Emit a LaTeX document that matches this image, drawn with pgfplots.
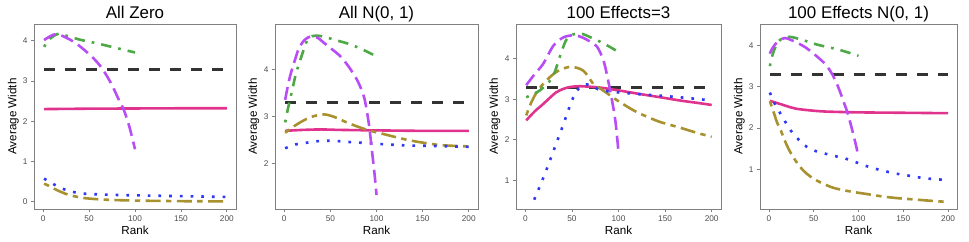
\documentclass[border=0pt]{standalone}
\usepackage{pgfplots}
\pgfplotsset{compat=1.18}
\usepackage{fontspec}
\setmainfont{Liberation Sans}
\definecolor{cblack}{HTML}{333333}
\definecolor{cpink}{HTML}{E0338D}
\definecolor{cpurple}{HTML}{B94DF5}
\definecolor{cgreen}{HTML}{4DA845}
\definecolor{colive}{HTML}{A8912F}
\definecolor{cblue}{HTML}{3038F8}
\definecolor{cframe}{HTML}{808080}
\definecolor{ctick}{HTML}{4D4D4D}
\pgfplotsset{
  every axis title shift=0pt,
  panel/.style={
    scale only axis, height=185bp,
    xmin=-10, xmax=210, xtick={0,50,100,150,200},
    axis line style={draw=cframe, line width=0.9bp},
    tick align=outside, tick pos=left,
    major tick length=3bp,
    tick style={draw=cframe, line width=0.8bp},
    ticklabel style={font=\fontsize{8.3}{9}\selectfont, text=ctick},
    /pgf/number format/assume math mode=true,
    title style={at={(axis description cs:0.5,1.0324)}, anchor=base, inner sep=0pt, font=\fontsize{17}{18}\selectfont},
    xlabel style={at={(axis description cs:0.5,-0.1405)}, anchor=base, inner sep=0pt, font=\fontsize{11.7}{12}\selectfont},
    ylabel style={anchor=base, inner sep=0pt, font=\fontsize{11.7}{12}\selectfont},
    xlabel={Rank}, ylabel={Average Width},
    every axis plot/.append style={line width=2.6bp, line cap=butt, no markers},
  },
  sblack/.style={cblack, dash pattern=on 11bp off 10bp},
  spink/.style={cpink, solid},
  spurple/.style={cpurple, dash pattern=on 13bp off 6bp},
  sgreen/.style={cgreen, dash pattern=on 2.7bp off 7bp on 10.5bp off 7bp},
  solive/.style={colive, dash pattern=on 5.4bp off 5.4bp on 15bp off 5.4bp},
  sblue/.style={cblue, dash pattern=on 2.7bp off 8bp},
}
\begin{document}
\begin{tikzpicture}
\path[use as bounding box] (0,0) rectangle (969bp,242bp);
% Panel 1
\begin{axis}[panel, at={(34bp,33bp)}, anchor=south west, width=202bp,
  ymin=-0.19, ymax=4.42, ytick={0,1,2,3,4},
  ylabel style={at={(axis description cs:-0.087,0.5)}},
  title={All Zero}]
\addplot[sblack] coordinates {(1,3.29) (200,3.29)};
\addplot[spink] coordinates {(1,2.30) (50,2.31) (100,2.315) (150,2.32) (200,2.32)};
\addplot[solive, smooth] coordinates {(1,0.44) (5,0.40) (10,0.34) (15,0.28) (20,0.23) (28,0.16) (40,0.10) (50,0.07) (70,0.04) (100,0.02) (150,0.005) (200,0.0)};
\addplot[sblue, smooth] coordinates {(1,0.57) (5,0.51) (12,0.42) (18,0.35) (23,0.30) (30,0.25) (40,0.20) (50,0.185) (60,0.175) (80,0.16) (100,0.15) (150,0.13) (200,0.11)};
\addplot[sgreen, smooth] coordinates {(1,3.85) (5,4.0) (10,4.1) (17,4.18) (25,4.13) (40,4.03) (60,3.93) (80,3.82) (100,3.71)};
\addplot[spurple, smooth] coordinates {(1,4.02) (8,4.12) (15,4.17) (25,4.08) (35,3.95) (45,3.77) (55,3.56) (63,3.35) (70,3.1) (76,2.85) (82,2.55) (88,2.27) (94,1.85) (100,1.3)};
\end{axis}
% Panel 2
\begin{axis}[panel, at={(275bp,33bp)}, anchor=south west, width=203bp,
  ymin=1.03, ymax=4.96, ytick={2,3,4},
  ylabel style={at={(axis description cs:-0.089,0.5)}},
  title={All N(0, 1)}]
\addplot[sblack] coordinates {(1,3.29) (200,3.29)};
\addplot[spink, smooth] coordinates {(1,2.69) (20,2.71) (40,2.72) (60,2.71) (100,2.70) (150,2.69) (200,2.69)};
\addplot[solive, smooth] coordinates {(1,2.65) (10,2.78) (20,2.9) (30,2.99) (43,3.04) (55,2.98) (70,2.85) (90,2.71) (110,2.61) (133,2.50) (150,2.44) (168,2.39) (185,2.37) (200,2.36)};
\addplot[sblue, smooth] coordinates {(1,2.32) (12,2.40) (25,2.44) (36,2.47) (48,2.48) (60,2.47) (72,2.45) (90,2.43) (104,2.41) (133,2.38) (160,2.37) (200,2.35)};
\addplot[sgreen, smooth] coordinates {(1,2.87) (4,3.16) (8,3.5) (12.6,3.9) (16,4.11) (20,4.35) (25,4.62) (30,4.70) (37,4.71) (45,4.68) (55,4.62) (68,4.55) (80,4.46) (90,4.37) (100,4.27)};
\addplot[spurple, smooth] coordinates {(1,3.35) (4,3.65) (7,3.9) (12,4.22) (16,4.45) (22,4.62) (28,4.69) (36,4.67) (43,4.56) (52,4.42) (61,4.27) (70,4.05) (79,3.77) (85,3.5) (88,3.28) (92,2.8) (95,2.28) (98,1.75) (100,1.33)};
\end{axis}
% Panel 3
\begin{axis}[panel, at={(516bp,33bp)}, anchor=south west, width=205bp,
  ymin=0.29, ymax=4.86, ytick={1,2,3,4},
  ylabel style={at={(axis description cs:-0.088,0.5)}},
  title={100 Effects=3}]
\addplot[sblack] coordinates {(1,3.29) (200,3.29)};
\addplot[spink, smooth] coordinates {(1,2.48) (10,2.70) (19,2.88) (26,3.03) (33,3.17) (40,3.25) (47,3.30) (55,3.32) (62,3.32) (80,3.29) (100,3.22) (123,3.13) (145,3.05) (166,2.97) (185,2.91) (200,2.86)};
\addplot[solive, smooth] coordinates {(1,2.6) (5,2.85) (11,3.13) (18,3.35) (26,3.54) (35,3.7) (47,3.80) (55,3.78) (62,3.71) (68,3.55) (73,3.38) (84,3.21) (95,3.03) (105,2.88) (120,2.68) (141,2.47) (152,2.39) (166,2.30) (180,2.2) (200,2.07)};
\addplot[sblue, smooth] coordinates {(9.5,0.52) (20,1.10) (30,1.71) (40,2.33) (46,2.72) (50,2.97) (55,3.2) (60,3.32) (66,3.37) (72,3.31) (78,3.25) (88,3.2) (100,3.17) (120,3.13) (150,3.08) (175,3.03) (200,2.97)};
\addplot[sgreen, smooth] coordinates {(1,3.05) (8,3.12) (15,3.21) (22,3.35) (28,3.5) (32,3.7) (36,3.98) (40,4.25) (44,4.47) (49,4.58) (55,4.62) (62,4.61) (70,4.53) (84,4.38) (100,4.17)};
\addplot[spurple, smooth] coordinates {(1,3.35) (10,3.62) (19,3.87) (30,4.32) (40,4.52) (47,4.57) (54,4.58) (62,4.52) (70,4.42) (77,4.3) (84,3.95) (89,3.45) (94,2.85) (97,2.4) (100,1.7)};
\end{axis}
% Panel 4
\begin{axis}[panel, at={(760bp,33bp)}, anchor=south west, width=197bp,
  ymin=0.04, ymax=4.52, ytick={1,2,3,4},
  ylabel style={at={(axis description cs:-0.089,0.5)}},
  title={100 Effects N(0, 1)}]
\addplot[sblack] coordinates {(1,3.29) (200,3.29)};
\addplot[spink, smooth] coordinates {(1,2.66) (10,2.6) (20,2.53) (30,2.47) (45,2.43) (63,2.40) (100,2.38) (150,2.37) (200,2.36)};
\addplot[solive, smooth] coordinates {(1,2.65) (5,2.4) (9,2.14) (14,1.9) (18,1.68) (23,1.45) (30,1.2) (38,0.98) (46,0.83) (56,0.70) (65,0.61) (74,0.54) (92,0.46) (110,0.40) (128,0.34) (145,0.30) (163,0.27) (180,0.24) (200,0.21)};
\addplot[sblue, smooth] coordinates {(1,2.86) (6,2.61) (12,2.38) (18,2.16) (24,1.95) (31,1.77) (40,1.58) (50,1.46) (61,1.39) (72,1.33) (84,1.27) (95,1.19) (106,1.10) (118,1.02) (129,0.96) (141,0.90) (153,0.86) (163,0.82) (176,0.78) (187,0.76) (200,0.74)};
\addplot[sgreen, smooth] coordinates {(1,3.5) (3,3.7) (6,3.9) (10,4.08) (15,4.17) (23,4.21) (30,4.18) (38,4.13) (54,4.02) (70,3.94) (81,3.88) (100,3.75)};
\addplot[spurple, smooth] coordinates {(1,3.8) (3,3.9) (7,4.03) (12,4.13) (18,4.18) (25,4.13) (33,4.05) (41,3.95) (50,3.8) (61,3.59) (68,3.4) (74,3.16) (79,2.9) (84,2.6) (88,2.35) (93,1.95) (97,1.6) (100,1.3)};
\end{axis}
\end{tikzpicture}
\end{document}
